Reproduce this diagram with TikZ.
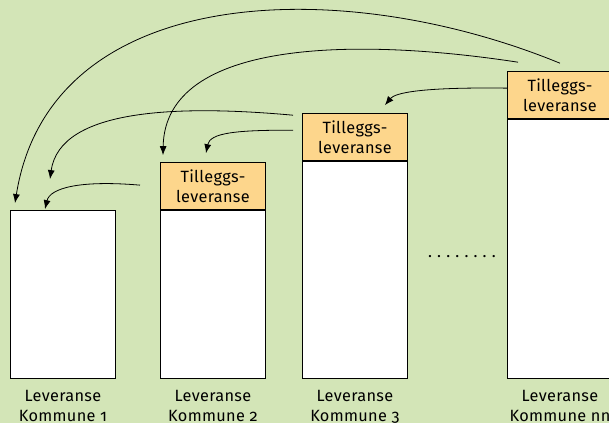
\documentclass[tikz,border=0pt]{standalone}
\usepackage{fontspec}
\setmainfont{Fira Sans}[Numbers=OldStyle,LetterSpace=2]
\usepackage{xcolor}
\usetikzlibrary{arrows.meta,positioning}
\definecolor{bakgrunn}{RGB}{211,229,183}
\definecolor{tillegg}{RGB}{253,214,140}

\begin{document}
\begin{tikzpicture}[x=1pt,y=1pt,
          font=\fontsize{16.3}{20}\selectfont,
          kommune/.style={draw,fill=white,line width=0.9pt,minimum width=105pt,inner sep=0pt,anchor=south west},
          tilleggsboks/.style={draw,fill=tillegg,line width=0.9pt,minimum width=105pt,minimum height=47pt,inner sep=0pt,align=center},
          etikett/.style={align=center,inner sep=0pt},
          pil/.style={-{Latex[length=9pt,width=7pt]},line width=0.8pt}]
          \useasboundingbox[fill=bakgrunn] (0,0) rectangle (609,423);
          \node[kommune,minimum height=168pt] (k1) at (10,44) {};
          \node[kommune,minimum height=168pt] (k2) at (160,44) {};
          \node[kommune,minimum height=217pt] (k3) at (302,44) {};
          \node[kommune,minimum height=259pt] (k4) at (507,44) {};
          \node[tilleggsboks,above=0pt of k2] (t2) {Tilleggs-\\leveranse};
          \node[tilleggsboks,above=0pt of k3] (t3) {Tilleggs-\\leveranse};
          \node[tilleggsboks,above=0pt of k4] (t4) {Tilleggs-\\leveranse};
          \node[etikett,below=11.5pt of k1] (l1) {Leveranse\\Kommune 1};
          \node[etikett,below=11.5pt of k2] (l2) {Leveranse\\Kommune 2};
          \node[etikett,below=11.5pt of k3] (l3) {Leveranse\\Kommune 3};
          \node[etikett,below=11.5pt of k4] (l4) {Leveranse\\Kommune nn};
          \node (prikker) at (462,166) {\hbox to 73pt{\leaders\hbox to 9.1pt{\hss.\hss}\hfill}};
          \draw[pil] ([yshift=8pt]t4.north) .. controls (340,450) and (50,440) .. ([xshift=5pt,yshift=7pt]k1.north west);
          \draw[pil] ([xshift=11pt,yshift=9pt]t4.north west) .. controls (360,385) and (165,385) .. ([xshift=3pt,yshift=7pt]t2.north west);
          \draw[pil] ([yshift=7pt]t4.west) .. controls (420,336) and (395,330) .. ([xshift=-23pt,yshift=8pt]t3.north east);
          \draw[pil] ([xshift=-9pt,yshift=-2pt]t3.north west) .. controls (180,318) and (60,315) .. ([xshift=40pt,yshift=31pt]k1.north west);
          \draw[pil] ([xshift=-9pt,yshift=-17pt]t3.north west) .. controls (235,293) and (210,290) .. ([xshift=46pt,yshift=9pt]t2.north west);
          \draw[pil] ([xshift=-20pt,yshift=1pt]t2.west) .. controls (80,243) and (50,235) .. ([xshift=35pt,yshift=1pt]k1.north west);
        \end{tikzpicture}
\end{document}
